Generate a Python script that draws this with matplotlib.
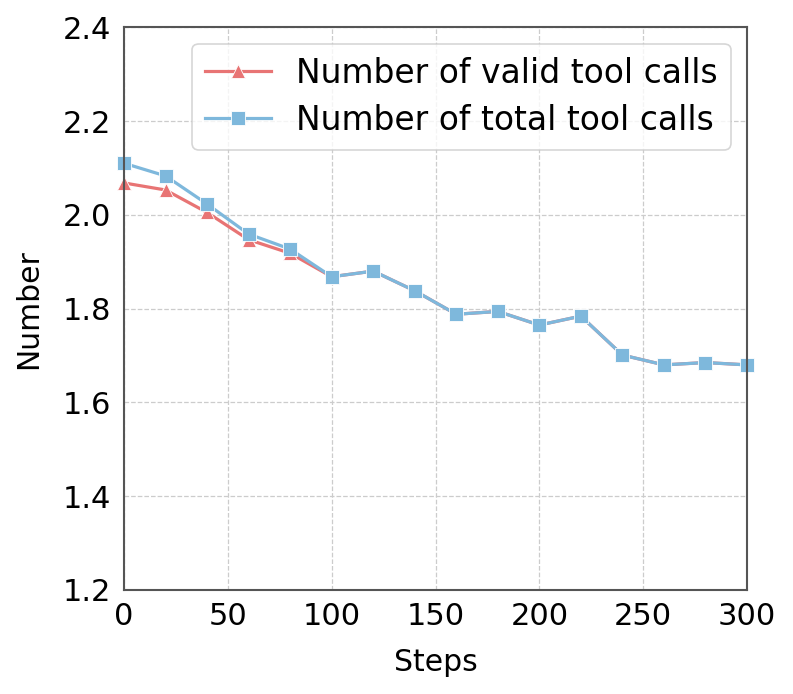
import matplotlib
matplotlib.use("Agg")
import matplotlib.pyplot as plt

steps = [0, 20, 40, 60, 80, 100, 120, 140, 160, 180, 200, 220, 240, 260, 280, 300]
valid_calls = [2.068, 2.053, 2.005, 1.947, 1.918, 1.868, 1.880, 1.838, 1.788, 1.794,
               1.765, 1.784, 1.701, 1.680, 1.685, 1.680]
total_calls = [2.110, 2.083, 2.023, 1.959, 1.927, 1.868, 1.880, 1.838, 1.788, 1.794,
               1.765, 1.784, 1.701, 1.680, 1.685, 1.680]

fig = plt.figure(figsize=(7.93, 6.94), dpi=100)
ax = fig.add_axes([0.1564, 0.1499, 0.7856, 0.8108])

ax.plot(steps, valid_calls, color='#E87474', marker='^', markersize=9.5, linewidth=2.3,
        markeredgecolor='white', markeredgewidth=0.6, label='Number of valid tool calls', clip_on=False)
ax.plot(steps, total_calls, color='#7EB8DC', marker='s', markersize=9.5, linewidth=2.3,
        markeredgecolor='white', markeredgewidth=0.6, label='Number of total tool calls', clip_on=False)

ax.set_xlim(0, 300)
ax.set_ylim(1.2, 2.4)
ax.set_xticks([0, 50, 100, 150, 200, 250, 300])
ax.set_yticks([1.2, 1.4, 1.6, 1.8, 2.0, 2.2, 2.4])
ax.tick_params(axis='both', length=0, labelsize=22, pad=9)
ax.grid(True, linestyle='--', color='#cccccc', linewidth=0.9)
ax.set_axisbelow(True)
for s in ax.spines.values():
    s.set_color('#555555')
    s.set_linewidth(1.5)

ax.set_xlabel('Steps', fontsize=21.5, labelpad=12)
ax.set_ylabel('Number', fontsize=21.5, labelpad=14)

leg = ax.legend(loc='upper right', fontsize=23.7, frameon=True, fancybox=True,
                edgecolor='#cccccc', handlelength=2.0, handletextpad=0.75,
                labelspacing=0.42, borderaxespad=0.5)
leg.get_frame().set_linewidth(1.2)

fig.savefig('out.png', dpi=100)
